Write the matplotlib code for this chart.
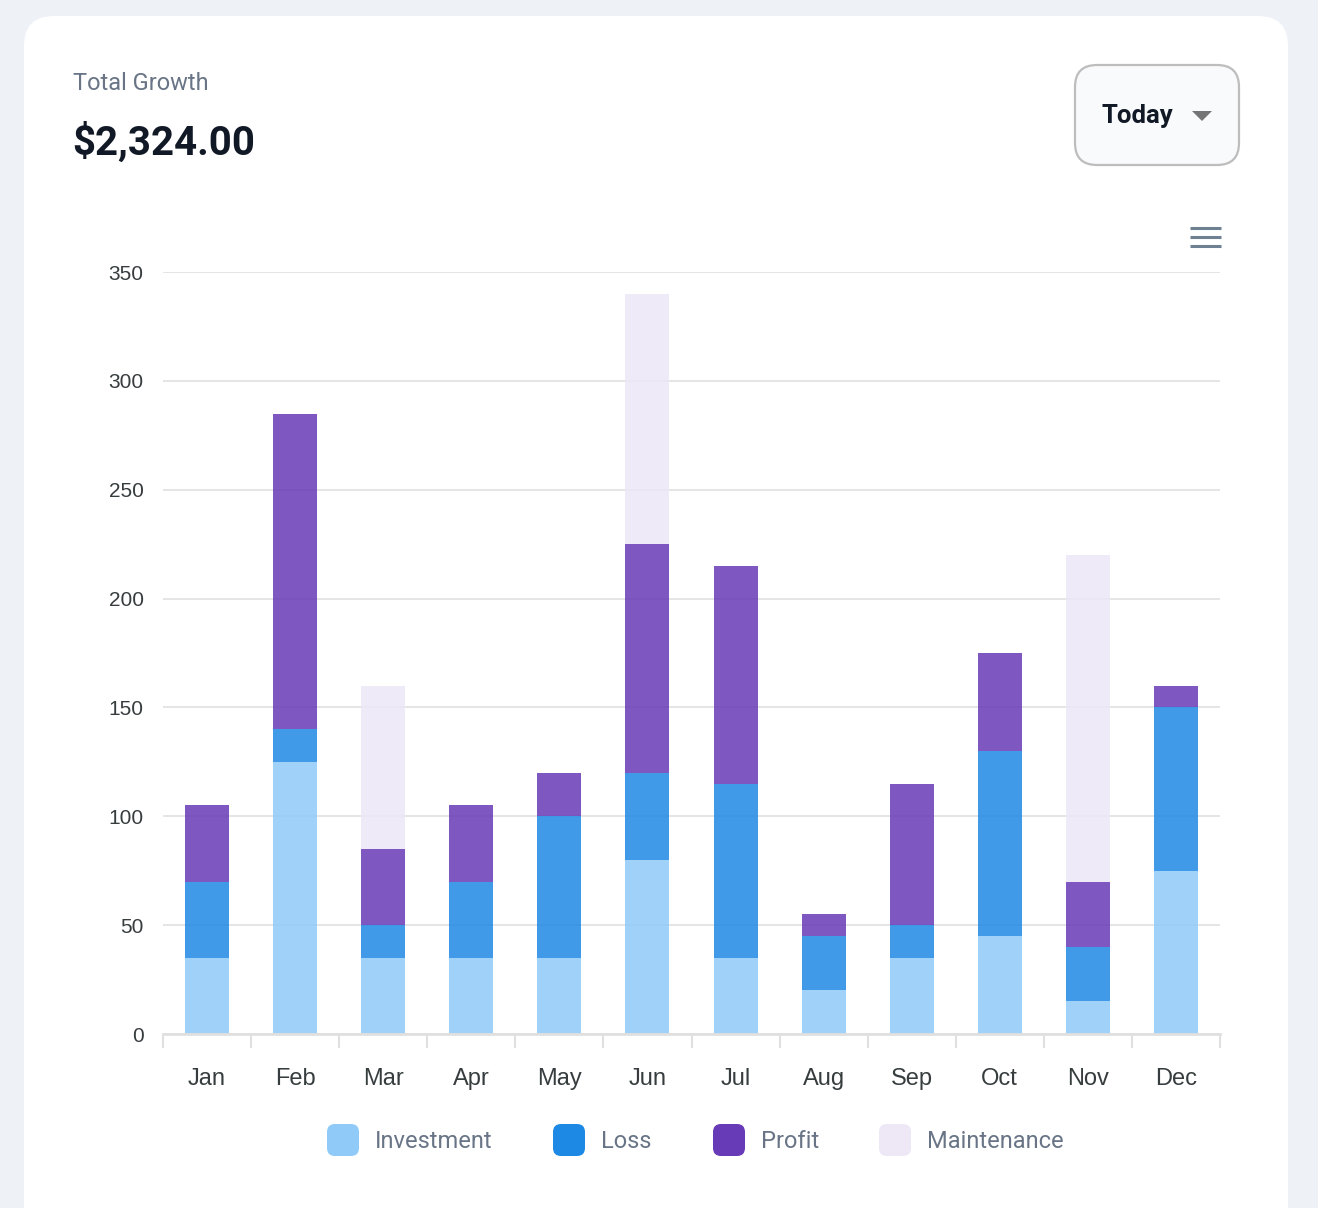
import matplotlib
matplotlib.use('Agg')
import matplotlib.pyplot as plt
from matplotlib.patches import FancyBboxPatch, Polygon
import numpy as np

months = ["Jan", "Feb", "Mar", "Apr", "May", "Jun",
          "Jul", "Aug", "Sep", "Oct", "Nov", "Dec"]
investment = [35, 125, 35, 35, 35, 80, 35, 20, 35, 45, 15, 75]
loss = [35, 15, 15, 35, 65, 40, 80, 25, 15, 85, 25, 75]
profit = [35, 145, 35, 35, 20, 105, 100, 10, 65, 45, 30, 10]
maintenance = [0, 0, 75, 0, 0, 115, 0, 0, 0, 0, 150, 0]
series_names = ["Investment", "Loss", "Profit", "Maintenance"]
series_colors = ["#90caf9", "#1e88e5", "#673ab7", "#ede7f6"]

W, H = 1318, 1208
fig = plt.figure(figsize=(W / 100, H / 100), dpi=100)
fig.patch.set_facecolor("#eef2f6")

# background layer in pixel coordinates
bg = fig.add_axes([0, 0, 1, 1])
bg.set_xlim(0, W)
bg.set_ylim(H, 0)
bg.axis('off')

card = FancyBboxPatch((24, 16), 1264, 1260, boxstyle="round,pad=0,rounding_size=30",
                      facecolor="white", edgecolor="none")
bg.add_patch(card)

bg.text(73, 84, "Total Growth", fontsize=17, color="#697586", family="Roboto",
        va="center", ha="left")
bg.text(72, 142, "$2,324.00", fontsize=29, color="#121926", family="Roboto",
        fontweight="bold", va="center", ha="left", fontstretch="condensed")

# "Today" dropdown
btn = FancyBboxPatch((1075, 65), 164, 100, boxstyle="round,pad=0,rounding_size=22",
                     facecolor="#f8fafc", edgecolor="#bdbdbd", linewidth=1.6)
bg.add_patch(btn)
bg.text(1102, 116, "Today", fontsize=18.5, color="#121926", family="Roboto",
        fontweight="bold", va="center", ha="left")
bg.add_patch(Polygon([(1192, 111), (1212, 111), (1202, 121)], closed=True,
                     facecolor="#757575", edgecolor="none"))

# hamburger menu icon
for yy in (228, 237, 246):
    bg.plot([1190, 1221], [yy, yy], color="#6e8192", linewidth=2.2,
            solid_capstyle="butt")

# legend
leg_x = [327, 553, 713, 879]
for name, col, lx in zip(series_names, series_colors, leg_x):
    bg.add_patch(FancyBboxPatch((lx, 1124), 32, 32,
                                boxstyle="round,pad=0,rounding_size=8",
                                facecolor=col, edgecolor="none"))
    bg.text(lx + 48, 1141, name, fontsize=17, color="#697586", family="Roboto",
            va="center", ha="left")

# chart axes
x0, x1, y0, y1 = 163, 1220, 1034, 272
ax = fig.add_axes([x0 / W, (H - y0) / H, (x1 - x0) / W, (y0 - y1) / H])
ax.patch.set_alpha(0)

x = np.arange(len(months))
bottom = np.zeros(len(months))
for name, col, vals in zip(series_names, series_colors,
                           [investment, loss, profit, maintenance]):
    vals = np.array(vals, dtype=float)
    ax.bar(x, vals, width=0.5, bottom=bottom, color=col, alpha=0.85,
           edgecolor="none", zorder=3)
    bottom += vals

ax.set_xlim(-0.5, 11.5)
ax.set_ylim(0, 350)
ax.set_yticks(range(0, 351, 50))
ax.set_yticklabels([str(v) for v in range(0, 351, 50)],
                   fontsize=15, color="#373d3f", family="Liberation Sans")
ax.set_xticks(x)
ax.set_xticklabels(months, fontsize=17, color="#373d3f", family="Liberation Sans")
ax.set_xticks(np.arange(-0.5, 12, 1), minor=True)
ax.tick_params(axis='x', which='major', length=0, pad=24.5)
ax.tick_params(axis='x', which='minor', length=10, width=1.5, color="#e0e0e0",
               direction='out')
ax.tick_params(axis='y', length=0, pad=14)
ax.grid(axis='y', color="#e0e0e0", linewidth=1.2, zorder=0)
for s in ("top", "right", "left"):
    ax.spines[s].set_visible(False)
ax.spines["bottom"].set_color("#e0e0e0")
ax.spines["bottom"].set_linewidth(2)
ax.spines["bottom"].set_zorder(4)

plt.savefig("out.png", dpi=100, facecolor=fig.get_facecolor())
